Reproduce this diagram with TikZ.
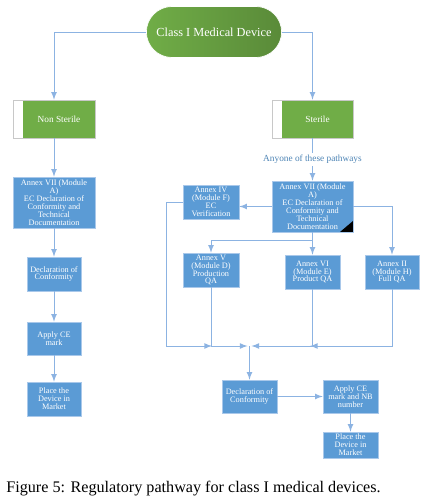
\documentclass[tikz,border=0pt]{standalone}
\usepackage{fontspec}
\setmainfont{Liberation Serif}
\usetikzlibrary{positioning,shapes,arrows}

\definecolor{boxblue}{HTML}{5B9BD5}
\definecolor{boxedge}{HTML}{A9C8EA}
\definecolor{leafgreen}{HTML}{70AD47}
\definecolor{linkblue}{HTML}{8CB3E2}
\definecolor{notegray}{HTML}{C8C8C8}

\tikzset{
  bluebox/.style={rectangle, fill=boxblue, draw=boxedge, line width=0.4pt, text=white,
    align=center, inner sep=0pt, font=\fontsize{4.7}{4.5}\selectfont},
  startbox/.style={rectangle, fill=white, draw=notegray, line width=0.4pt, text=white,
    inner sep=0pt, minimum width=1.64cm, minimum height=0.76cm,
    font=\fontsize{5.3}{5.3}\selectfont,
    path picture={\fill[leafgreen] ([xshift=0.2cm]path picture bounding box.south west)
      rectangle (path picture bounding box.north east);}},
  conn/.style={draw=linkblue, line width=0.5pt, ->, >=latex}
}

\begin{document}
\begin{tikzpicture}[x=0.02cm, y=-0.02cm]
  \useasboundingbox (0,0) rectangle (434,503);

  %  Define nodes
  \node[rounded rectangle, left color=leafgreen, right color=leafgreen!80!black, draw=white,
    minimum width=2.94cm, minimum height=1.02cm, text=white,
    font=\fontsize{7}{7}\selectfont] (device) at (214,32) {Class I Medical Device};

  \node[startbox] (nonsterile) at (54,119) {\hspace{0.2cm}Non Sterile};
  \node[startbox, minimum width=1.62cm] (sterile) at (312.5,119) {\hspace{0.2cm}Sterile};

  \node[bluebox, minimum width=1.64cm, minimum height=1.02cm] (nsannex) at (54,202.5)
    {Annex VII (Module\\A)\\EC Declaration of\\Conformity and\\Technical\\Documentation};
  \node[bluebox, minimum width=1.08cm, minimum height=0.68cm] (nsdecl) at (54,274)
    {Declaration of\\Conformity};
  \node[bluebox, minimum width=1.08cm, minimum height=0.66cm] (nsapply) at (54,338.5)
    {Apply CE\\mark};
  \node[bluebox, minimum width=1.08cm, minimum height=0.68cm] (nsplace) at (54,399)
    {Place the\\Device in\\Market};

  \node[bluebox, minimum width=1.62cm, minimum height=1.02cm,
    path picture={\fill[black] ([xshift=-0.26cm]path picture bounding box.south east)
      -- (path picture bounding box.south east)
      -- ([yshift=0.22cm]path picture bounding box.south east) -- cycle;}] (sannex) at (312.5,206.5)
    {Annex VII (Module\\A)\\EC Declaration of\\Conformity and\\Technical\\Documentation};
  \node[bluebox, minimum width=1.12cm, minimum height=0.68cm] (annexiv) at (211,202)
    {Annex IV\\(Module F)\\EC\\Verification};
  \node[bluebox, minimum width=1.12cm, minimum height=0.68cm] (annexv) at (211,270)
    {Annex V\\(Module D)\\Production\\QA};
  \node[bluebox, minimum width=1.1cm, minimum height=0.68cm] (annexvi) at (312.5,272)
    {Annex VI\\(Module E)\\Product QA};
  \node[bluebox, minimum width=1.08cm, minimum height=0.68cm] (annexii) at (392,272)
    {Annex II\\(Module H)\\Full QA};

  \node[bluebox, minimum width=1.1cm, minimum height=0.66cm] (sdecl) at (249.5,396.5)
    {Declaration of\\Conformity};
  \node[bluebox, minimum width=1.1cm, minimum height=0.66cm] (sapply) at (350.5,396.5)
    {Apply CE\\mark and NB\\number};
  \node[bluebox, minimum width=1.1cm, minimum height=0.52cm] (splace) at (350.5,445)
    {Place the\\Device in\\Market};

  \coordinate (sbranch) at (312.5,240);
  \coordinate (ivend) at (212,346);
  \coordinate (vend) at (247.5,346);
  \coordinate (join) at (249.5,346);
  \coordinate (viend) at (251.5,346);
  \coordinate (iiend) at (310,346);

  % Connect the nodes
  \draw[conn] (device) -| (nonsterile);
  \draw[conn] (device) -| (sterile);
  \draw[conn] (nonsterile) -- (nsannex);
  \draw[conn] (nsannex) -- (nsdecl);
  \draw[conn] (nsdecl) -- (nsapply);
  \draw[conn] (nsapply) -- (nsplace);

  \draw[conn] (sterile) -- node[fill=white, text=boxblue!85!black, inner sep=1pt,
    font=\fontsize{5.3}{5.3}\selectfont] {Anyone of these pathways} (sannex);
  \draw[conn] (sannex.west) -- (annexiv.east |- sannex.west);
  \draw[conn] (sannex) -| (annexii);
  \draw[conn] (sannex) -- (annexvi);
  \draw[conn] (sbranch) -| (annexv);

  \draw[conn] (annexiv.west) -- ++(-16,0) |- (ivend);
  \draw[conn] (annexv) |- (vend);
  \draw[conn] (annexvi) |- (viend);
  \draw[conn] (annexii) |- (iiend);
  \draw[conn] (join) -- (sdecl);
  \draw[conn] (sdecl) -- (sapply);
  \draw[conn] (sapply) -- (splace);

  % Caption
  \node[anchor=base west, inner sep=0pt, font=\fontsize{9.2}{9.2}\selectfont] (caption) at (6,492)
    {Figure 5: Regulatory pathway for class I medical devices.};
\end{tikzpicture}
\end{document}
